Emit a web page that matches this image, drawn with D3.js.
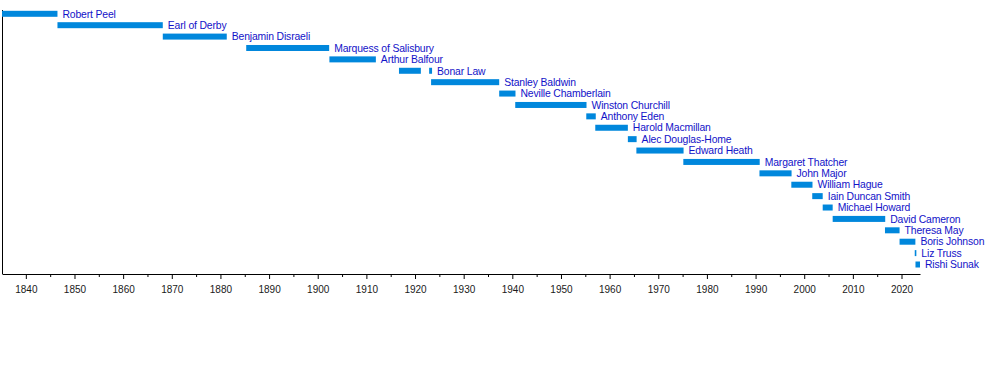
<!DOCTYPE html>
<html>
<head>
<meta charset="utf-8">
<script src="https://cdn.jsdelivr.net/npm/d3@7"></script>
<style>
    body { margin: 0; background: #fff; }
    svg { display: block; font-family: "Liberation Sans", Arial, sans-serif; }
</style>
</head>
<body>
<div id="chart"></div>
<script>
// Leaders of the Conservative Party, one row each (top to bottom)
const leaders = [
    'Robert Peel', 'Earl of Derby', 'Benjamin Disraeli', 'Marquess of Salisbury',
    'Arthur Balfour', 'Bonar Law', 'Stanley Baldwin', 'Neville Chamberlain',
    'Winston Churchill', 'Anthony  Eden', 'Harold Macmillan', 'Alec Douglas-Home',
    'Edward Heath', 'Margaret Thatcher', 'John Major', 'William Hague',
    'Iain Duncan Smith', 'Michael Howard', 'David Cameron', 'Theresa May',
    'Boris Johnson', 'Liz Truss', 'Rishi Sunak'
];

// Terms in office (Bonar Law has two)
const termLeader = [
    'Robert Peel', 'Earl of Derby', 'Benjamin Disraeli', 'Marquess of Salisbury',
    'Arthur Balfour', 'Bonar Law', 'Bonar Law', 'Stanley Baldwin', 'Neville Chamberlain',
    'Winston Churchill', 'Anthony  Eden', 'Harold Macmillan', 'Alec Douglas-Home',
    'Edward Heath', 'Margaret Thatcher', 'John Major', 'William Hague',
    'Iain Duncan Smith', 'Michael Howard', 'David Cameron', 'Theresa May',
    'Boris Johnson', 'Liz Truss', 'Rishi Sunak'
];
const termStart = [
    1835.1, 1846.5, 1868.15, 1885.3, 1902.4, 1916.7, 1922.9, 1923.3, 1937.3,
    1940.6, 1955.2, 1957.05, 1963.75, 1965.5, 1975.15, 1990.8, 1997.35,
    2001.65, 2003.8, 2005.85, 2016.6, 2019.6, 2022.72, 2022.87
];
const termEnd = [
    1846.5, 1868.15, 1881.3, 1902.35, 1911.95, 1921.2, 1923.5, 1937.3, 1940.65,
    1955.25, 1957.15, 1963.75, 1965.55, 1975.2, 1990.85, 1997.4, 2001.7,
    2003.8, 2005.85, 2016.65, 2019.6, 2022.85, 2023.05, 2023.8
];

const decadeTicks = [1840, 1850, 1860, 1870, 1880, 1890, 1900, 1910, 1920, 1930,
    1940, 1950, 1960, 1970, 1980, 1990, 2000, 2010, 2020];
const minorTicks = [1845, 1855, 1865, 1875, 1885, 1895, 1905, 1915, 1925, 1935,
    1945, 1955, 1965, 1975, 1985, 1995, 2005, 2015];

const barColor = '#0087dc';
const labelColor = '#1212c8';

const width = 1000;
const height = 374;

const svg = d3.select('#chart')
    .append('svg')
    .attr('width', width)
    .attr('height', height);

svg.append('rect')
    .attr('width', width)
    .attr('height', height)
    .attr('fill', '#fff');

const axisY = 274;

// Scales
const x = d3.scaleLinear()
    .domain([1835.1, 2023.8])
    .range([2, 920]);

const y = d3.scalePoint()
    .domain(leaders)
    .range([13.8, 264.5]);

const barHeight = 6;

// Left axis line
svg.append('line')
    .attr('x1', 2.5)
    .attr('x2', 2.5)
    .attr('y1', 10)
    .attr('y2', axisY)
    .attr('stroke', '#000')
    .attr('stroke-width', 1);

// Minor ticks
svg.append('g')
    .attr('transform', `translate(0, ${axisY})`)
    .call(d3.axisBottom(x)
        .tickValues(minorTicks)
        .tickSize(3)
        .tickSizeOuter(0)
        .tickFormat('')
    )
    .call(g => g.select('.domain').remove())
    .selectAll('.tick line')
    .attr('stroke', '#000');

// Major ticks and labels
const xAxis = svg.append('g')
    .attr('transform', `translate(0, ${axisY})`)
    .call(d3.axisBottom(x)
        .tickValues(decadeTicks)
        .tickSize(5)
        .tickSizeOuter(0)
        .tickPadding(7)
        .tickFormat(d3.format('d'))
    );

xAxis.select('.domain').attr('stroke', '#000');
xAxis.selectAll('.tick line').attr('stroke', '#000');
xAxis.selectAll('text')
    .attr('fill', '#1a1a1a')
    .style('font-size', '10px')
    .style('font-family', '"Liberation Sans", Arial, sans-serif');

// Bars
const terms = termLeader.map((name, i) => ({
    name: name,
    start: termStart[i],
    end: termEnd[i]
}));

svg.selectAll('.bar')
    .data(terms)
    .enter()
    .append('rect')
    .attr('class', 'bar')
    .attr('x', d => x(d.start))
    .attr('y', d => y(d.name) - barHeight / 2)
    .attr('width', d => Math.max(1.5, x(d.end) - x(d.start)))
    .attr('height', barHeight)
    .attr('fill', barColor);

// Labels after the last term of each leader
const lastEnd = d3.rollup(terms, v => d3.max(v, d => d.end), d => d.name);

svg.selectAll('.label')
    .data(leaders)
    .enter()
    .append('text')
    .attr('class', 'label')
    .attr('x', d => Math.max(x(lastEnd.get(d)), 0) + 5)
    .attr('y', d => y(d))
    .attr('dy', '0.36em')
    .attr('fill', labelColor)
    .style('font-size', '10.4px')
    .style('letter-spacing', '-0.15px')
    .text(d => d);
</script>
</body>
</html>
